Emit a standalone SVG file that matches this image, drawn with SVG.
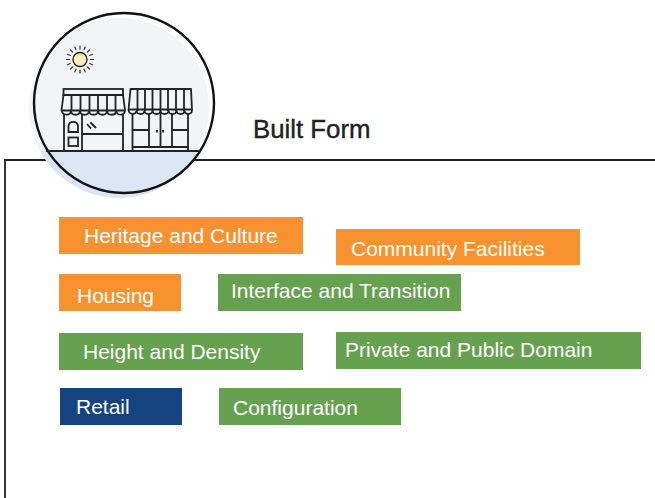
<svg xmlns="http://www.w3.org/2000/svg" width="655" height="498" viewBox="0 0 655 498">
<style>
.t{font-family:"Liberation Sans",Arial,sans-serif;font-size:21px;fill:#fff}
.o{fill:#f89130}.g{fill:#66a150}.b{fill:#14437f}
.i{fill:none;stroke:#222;stroke-width:1.8}
.a{fill:#f3f4f6;stroke:#222;stroke-width:1.8;stroke-linejoin:round}
</style>
<defs>
<clipPath id="sky"><rect x="0" y="0" width="655" height="151"/></clipPath>
<clipPath id="ground"><rect x="0" y="151" width="655" height="347"/></clipPath>
</defs>
<g id="frame"><path d="M655 160H5V498" fill="none" stroke="#222" stroke-width="1.8"/></g>
<g id="icon">
<circle cx="119" cy="108" r="90" fill="#f3f4f6" clip-path="url(#sky)"/>
<circle cx="119" cy="108" r="90" fill="#dce5f3" clip-path="url(#ground)"/>
<circle cx="124" cy="103" r="90" fill="none" stroke="#111" stroke-width="2.4"/>
<path d="M46 151H200" class="i"/>
<g id="sun">
<circle cx="80" cy="59.5" r="7" fill="#fdeebb" stroke="#222" stroke-width="1.4"/>
<g stroke="#333" stroke-width="1.2" stroke-linecap="round" fill="none">
<path d="M90.500 59.500H93.500M66.500 59.500H69.500M80 49V46M80 70V73M87.500 52L89.500 50M72.500 52L70.500 50M87.500 67L89.500 69M72.500 67L70.500 69M89.700 55.500L92.500 54.300M70.300 55.500L67.500 54.300M89.700 63.500L92.500 64.700M70.300 63.500L67.500 64.700M84 49.800L85.200 47M76 49.800L74.800 47M84 69.200L85.200 72M76 69.200L74.800 72"/>
</g>
</g>
<g id="store-left">
<path d="M64 111V151M123 111V151M82 113V151M82 134H123" class="i"/>
<rect x="63.5" y="89" width="59.500" height="6" class="i"/>
<path class="a" d="M63.500 95H123L125 110C125 116 117 116 116.300 111C115.500 116 107.500 116 107 111C106.500 116 98.500 116 98 111C97.500 116 89.500 116 89 111C88.500 116 80.500 116 80 111C79.500 116 71.500 116 71 111C70.500 116 62 116 61.500 110Z"/>
<path d="M62 110.500H125M71.500 95V111M80.500 95V111M89.500 95V111M98 95V111M107 95V111M115.500 95V111" class="i"/>
<path d="M68.500 132V126A4.800 4.800 0 0 1 78 126V132Z" class="i"/>
<rect x="68.500" y="137.500" width="9.500" height="8.500" class="i"/>
<path d="M87 124L91 128.500M90.500 122.500L96 128" class="i"/>
</g>
<g id="store-right">
<path d="M132.500 112V151M188 112V151M149 113V147M160.500 113V147M172 113V147M132.500 130H149M172 130H188M132.500 147H188" class="i"/>
<path class="a" d="M130.500 89H191L192 110C192 115 185 115 184.500 111C184 115 177 115 176.500 111C176 115 169 115 168.500 111C168 115 161 115 160.500 111C160 115 153 115 152.500 111C152 115 145 115 144.500 111C144 115 137 115 136.500 111C136 115 129 115 128.500 110Z"/>
<path d="M129 109.500H192M137.500 89V111M145 89V111M152.500 89V111M160.500 89V111M168 89V111M176 89V111M184 89V111" class="i"/>
<path d="M157 130V132.500M163 130V132.500" class="i"/>
</g>
</g>
<text id="title" x="253" y="138" font-family="Liberation Sans,Arial,sans-serif" font-size="25.800" fill="#222" stroke="#222" stroke-width=".4">Built Form</text>
<g id="heritage"><rect class="o" x="59" y="217" width="244" height="37"/><text class="t" x="84" y="243">Heritage and Culture</text></g>
<g id="community"><rect class="o" x="336" y="229" width="244" height="36"/><text class="t" x="351" y="256">Community Facilities</text></g>
<g id="housing"><rect class="o" x="59" y="274" width="122" height="37"/><text class="t" x="77" y="303">Housing</text></g>
<g id="interface"><rect class="g" x="218" y="274" width="243" height="37"/><text class="t" x="231" y="298">Interface and Transition</text></g>
<g id="height"><rect class="g" x="59" y="333" width="244" height="37"/><text class="t" x="83" y="359">Height and Density</text></g>
<g id="private"><rect class="g" x="336" y="332" width="305" height="37"/><text class="t" x="345" y="357">Private and Public Domain</text></g>
<g id="retail"><rect class="b" x="60" y="388" width="122" height="37"/><text class="t" x="76" y="414">Retail</text></g>
<g id="configuration"><rect class="g" x="219" y="388" width="182" height="37"/><text class="t" x="233" y="415">Configuration</text></g>
</svg>
